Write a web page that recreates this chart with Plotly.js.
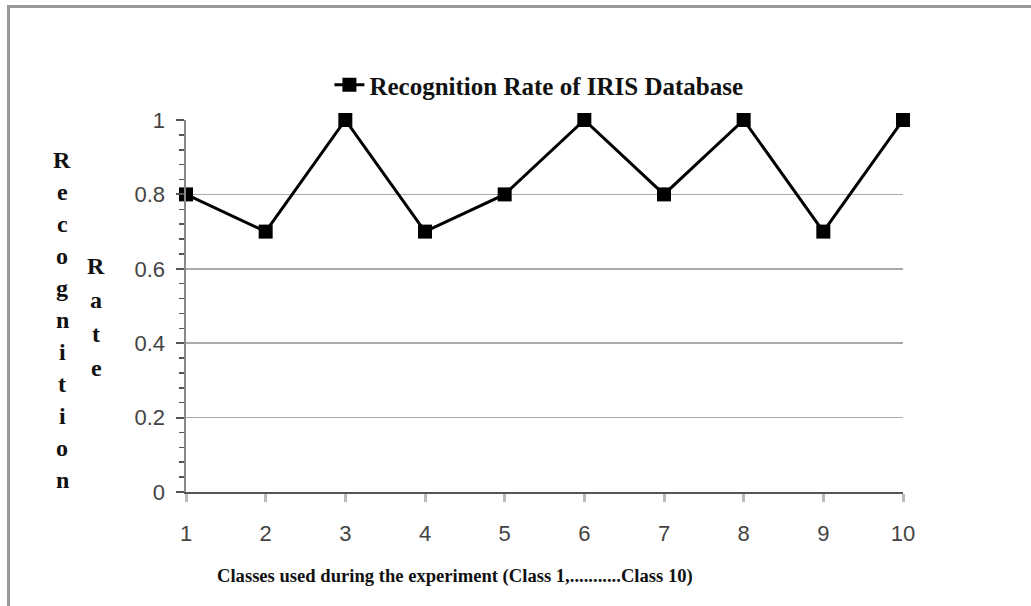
<!DOCTYPE html>
<html>
<head>
<meta charset="utf-8">
<script src="https://cdn.plot.ly/plotly-3.0.1.min.js"></script>
<style>
  html, body { margin: 0; padding: 0; background: #fff; }
  #chart { position: absolute; left: 0; top: 0; width: 1031px; height: 606px; }
  #frame { position: absolute; left: 7px; top: 5px; width: 1030px; height: 610px;
           border-left: 3px solid #999; border-top: 3px solid #999; pointer-events: none; }
</style>
</head>
<body>
<div id="chart"></div>
<div id="frame"></div>
<script>
const classes = [1, 2, 3, 4, 5, 6, 7, 8, 9, 10];
const recognitionRate = [0.8, 0.7, 1, 0.7, 0.8, 1, 0.8, 1, 0.7, 1];
const yTicks = [0, 0.2, 0.4, 0.6, 0.8, 1];
const yTickLabels = ['0', '0.2', '0.4', '0.6', '0.8', '1'];
const seriesName = 'Recognition Rate of IRIS Database';
const xTitle = 'Classes used during the experiment (Class 1,...........Class 10)';
const yTitleWord1 = 'Recognition';
const yTitleWord2 = 'Rate';

const serif = 'Liberation Serif, Times New Roman, serif';
const sans = 'Liberation Sans, Arial, sans-serif';

const trace = {
  x: classes,
  y: recognitionRate,
  type: 'scatter',
  mode: 'lines+markers',
  name: seriesName,
  line: { color: '#000', width: 3 },
  marker: { symbol: 'square', size: 14, color: '#000' },
  cliponaxis: false,
  showlegend: true
};

// vertical letter annotations for the stacked y-axis title
const annotations = [];
function stackLetters(word, xPx, yTopPx, stepPx) {
  for (let i = 0; i < word.length; i++) {
    annotations.push({
      text: word[i], xref: 'paper', yref: 'paper',
      x: (xPx - 186) / 717, y: (492 - (yTopPx + i * stepPx)) / 372,
      xanchor: 'center', yanchor: 'middle', showarrow: false,
      font: { family: serif, size: 24, color: '#111', weight: 'bold' }
    });
  }
}
stackLetters(yTitleWord1, 62, 160, 32);
stackLetters(yTitleWord2, 96, 266, 34);

annotations.push({
  text: xTitle, xref: 'paper', yref: 'paper',
  x: (455 - 186) / 717, y: (492 - 576) / 372,
  xanchor: 'center', yanchor: 'middle', showarrow: false,
  font: { family: serif, size: 18.6, color: '#111', weight: 'bold' }
});

const layout = {
  width: 1031, height: 606,
  margin: { l: 186, r: 128, t: 120, b: 114 },
  paper_bgcolor: '#fff', plot_bgcolor: '#fff',
  showlegend: true,
  legend: {
    orientation: 'h', x: 0.2, y: 1.094, xanchor: 'left', yanchor: 'middle',
    font: { family: serif, size: 25, color: '#111', weight: 'bold' },
    bgcolor: 'rgba(0,0,0,0)'
  },
  xaxis: {
    range: [1, 10], tickvals: classes, ticktext: classes.map(String),
    showgrid: false, zeroline: false,
    showline: true, linecolor: '#555', linewidth: 2,
    ticks: 'outside', ticklen: 8, tickwidth: 3, tickcolor: '#bbb',
    ticklabelstandoff: 13,
    tickfont: { family: sans, size: 22, color: '#444' },
    fixedrange: true
  },
  yaxis: {
    range: [0, 1], tickvals: yTicks, ticktext: yTickLabels,
    showgrid: true, gridcolor: '#aaa', gridwidth: 1.5,
    zeroline: false,
    showline: true, linecolor: '#888', linewidth: 2.5,
    ticks: 'outside', ticklen: 8, tickwidth: 2, tickcolor: '#555',
    ticklabelstandoff: 6,
    minor: { dtick: 0.04, ticks: 'outside', ticklen: 5, tickwidth: 1.5, tickcolor: '#555', showgrid: false },
    tickfont: { family: sans, size: 22, color: '#444' },
    fixedrange: true
  },
  annotations: annotations
};

Plotly.newPlot('chart', [trace], layout, { displayModeBar: false, staticPlot: true });
</script>
</body>
</html>
